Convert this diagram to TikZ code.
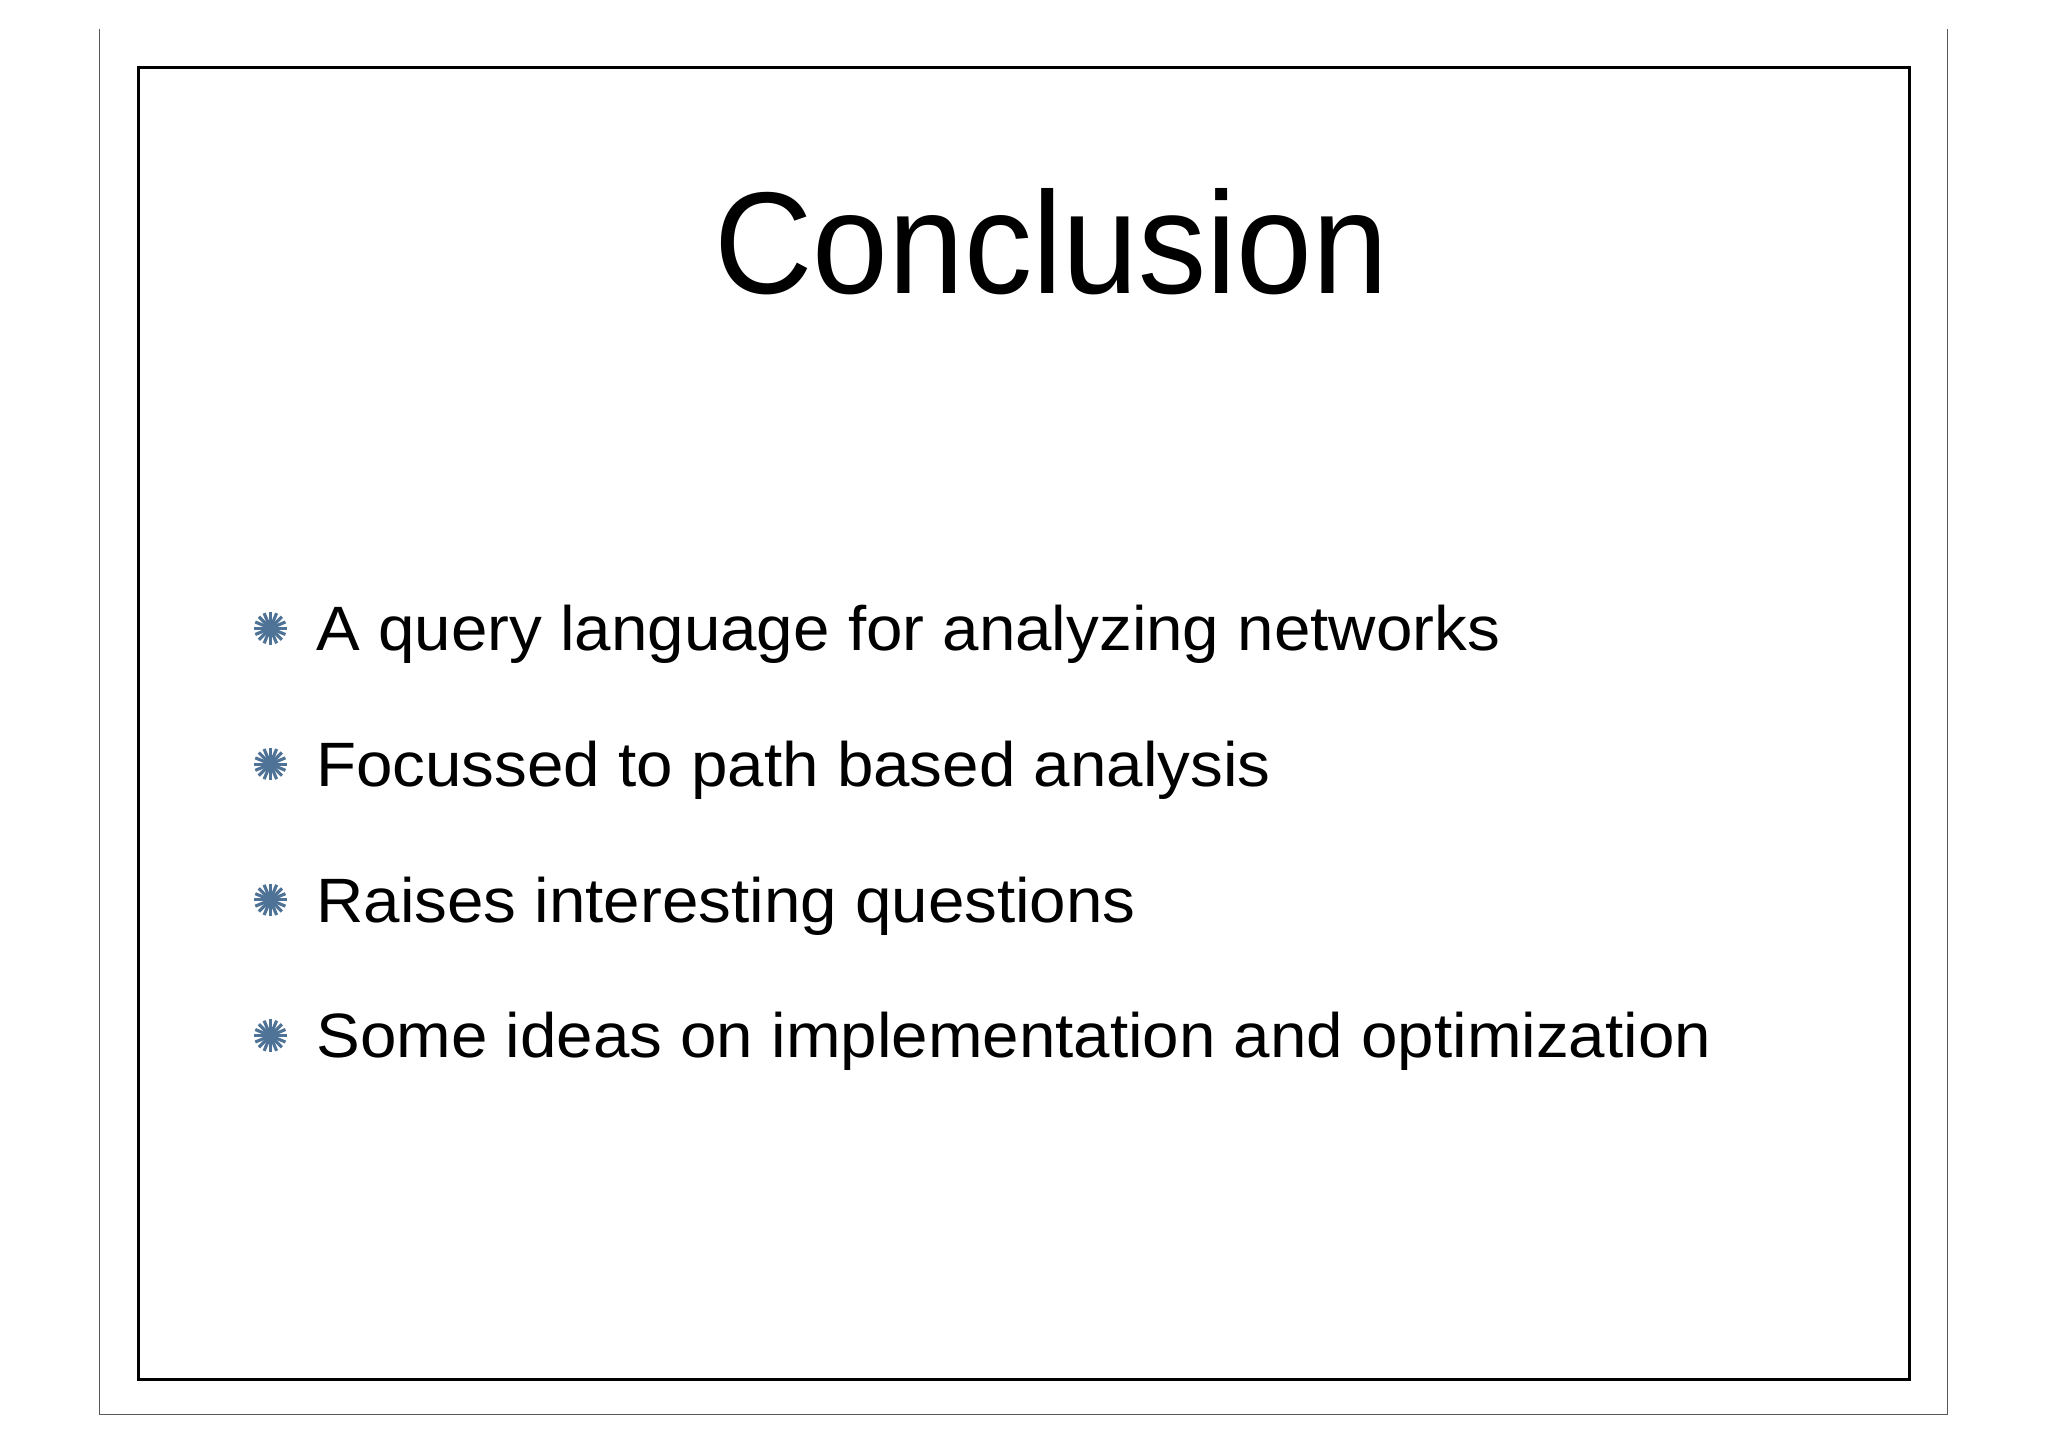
\documentclass[tikz,border=0pt]{standalone}
\usepackage{fontspec}
\setmainfont{Liberation Sans}
\definecolor{bul}{HTML}{4F7396}
\tikzset{
  bullettext/.style={anchor=base west, inner sep=0pt, font=\fontsize{48}{56}\selectfont, xscale=1.045, transform shape},
  star/.style={bul, line width=2.4pt}
}
\newcommand{\mystar}[1]{\foreach \a in {0,22.5,...,157.5}{\draw[star] ($(#1)+(\a:12.5)$) -- ($(#1)+(\a+180:12.5)$);}}
\usetikzlibrary{calc}
\begin{document}
\begin{tikzpicture}[x=1pt,y=-1pt]
\useasboundingbox (0,0) rectangle (1568,1108);
\draw[line width=0.8pt,gray!70!black] (76,22) -- (76,1083) -- (1491,1083) -- (1491,22);
\draw[line width=2.2pt] (106,52) rectangle (1462,1056);
\node[anchor=base, inner sep=0pt, font=\fontsize{111}{130}\selectfont, xscale=0.94, transform shape] (title) at (805,225) {Conclusion};
\foreach \y/\t [count=\i] in {498/A query language for analyzing networks,602/Focussed to path based analysis,706/Raises interesting questions,810/Some ideas on implementation and optimization}{
  \node[bullettext] (b\i) at (242,\y) {\t};
  \coordinate (s\i) at (207,\y-17);
  \mystar{s\i}
}
\end{tikzpicture}
\end{document}
